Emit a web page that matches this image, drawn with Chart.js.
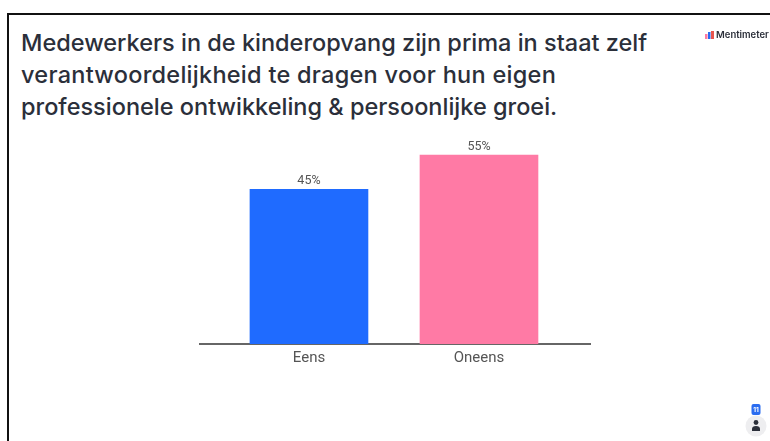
<!DOCTYPE html>
<html>
<head>
<meta charset="utf-8">
<title>Mentimeter resultaat</title>
<script src="https://cdn.jsdelivr.net/npm/chart.js@4"></script>
<style>
    html, body { margin: 0; padding: 0; background: #fff; }
    body { position: relative; width: 770px; height: 441px; overflow: hidden; font-family: 'Inter', sans-serif; }
    #frame { position: absolute; left: 7px; top: 13px; width: 763px; height: 428px; border-left: 2px solid #111; border-top: 2px solid #111; box-sizing: border-box; }
    #question { position: absolute; left: 21px; top: 27px; margin: 0; font-size: 23.5px; line-height: 32px; font-weight: 500; color: #2b2f3a; white-space: nowrap; }
    #question .wide { letter-spacing: 0.27px; }
    #chart-wrap { position: absolute; left: 0; top: 0; width: 770px; height: 441px; }
    #brand { position: absolute; left: 705px; top: 29px; display: flex; align-items: center; font-size: 9.5px; font-weight: 600; color: #2b2f3a; }
    #brand svg { margin-right: 2px; }
    #votes { position: absolute; left: 745px; top: 402px; }
</style>
</head>
<body>
<div id="frame"></div>
<h1 id="question">Medewerkers in de kinderopvang zijn prima in staat zelf<br><span class="wide">verantwoordelijkheid te dragen voor hun eigen</span><br>professionele ontwikkeling &amp; persoonlijke groei.</h1>
<div id="chart-wrap"><canvas id="results"></canvas></div>
<div id="brand">
    <svg width="9" height="8" viewBox="0 0 9 8"><rect x="0" y="3" width="2.5" height="5" fill="#ff7aa2"/><rect x="3" y="1" width="2.5" height="7" fill="#2a6cf0"/><rect x="6" y="0" width="3" height="8" fill="#e8554e"/></svg>
    <span>Mentimeter</span>
</div>
<svg id="votes" width="22" height="36" viewBox="0 0 22 36">
    <circle cx="11" cy="24" r="10.5" fill="#eeeef0"/>
    <rect x="6.5" y="2" width="9" height="11" rx="2" fill="#2a6cf0"/>
    <text x="11" y="10" font-family="Inter" font-size="6.5" font-weight="700" fill="#fff" text-anchor="middle">11</text>
    <circle cx="11" cy="20.5" r="2.4" fill="#2b2f3a"/>
    <path d="M7 29 v-2 q0 -3 4 -3 q4 0 4 3 v2 z" fill="#2b2f3a"/>
</svg>
<script>
// Antwoorden op de stelling, in procenten
const categories = ['Eens', 'Oneens'];
const percentages = [45, 55];
const barColors = ['#1f6bff', '#ff7aa5'];

// Two bars sit closer together than two category slots would, so x is linear
const barPoints = percentages.map((y, x) => ({ x, y }));

const valueLabels = {
    id: 'valueLabels',
    afterDatasetsDraw(chart) {
        const { ctx } = chart;
        ctx.save();
        ctx.font = '12.5px Roboto';
        ctx.fillStyle = '#555';
        ctx.textAlign = 'center';
        ctx.textBaseline = 'alphabetic';
        chart.getDatasetMeta(0).data.forEach((bar, i) => {
            ctx.fillText(percentages[i] + '%', bar.x, bar.y - 5);
        });
        ctx.restore();
    }
};

new Chart(document.getElementById('results'), {
    type: 'bar',
    data: { datasets: [{ data: barPoints, backgroundColor: barColors, barThickness: 118, borderWidth: 0 }] },
    options: {
        responsive: true,
        maintainAspectRatio: false,
        animation: false,
        layout: { padding: { left: 200, right: 180, top: 100, bottom: 69 } },
        plugins: { legend: { display: false }, tooltip: { enabled: false } },
        scales: {
            x: {
                type: 'linear',
                offset: false,
                min: -0.641,
                max: 1.653,
                afterBuildTicks: axis => { axis.ticks = categories.map((_, i) => ({ value: i })); },
                grid: { display: false, drawTicks: false },
                border: { color: '#666', width: 2 },
                ticks: {
                    color: '#555',
                    font: { family: 'Roboto', size: 15 },
                    padding: 5,
                    maxRotation: 0,
                    callback: v => categories[v]
                }
            },
            y: { display: false, min: 0, max: 71 }
        }
    },
    plugins: [valueLabels]
});
</script>
</body>
</html>
